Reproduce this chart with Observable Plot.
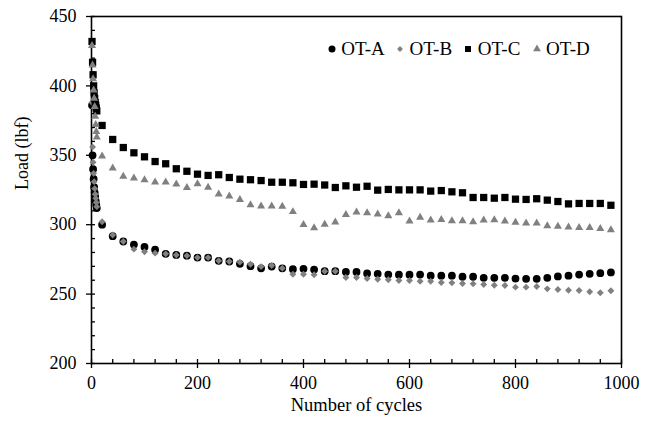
<!DOCTYPE html>
<html>
<head>
<meta charset="utf-8">
<script src="https://cdn.jsdelivr.net/npm/d3@7"></script>
<script src="https://cdn.jsdelivr.net/npm/@observablehq/plot@0.6"></script>
<style>
  body { margin: 0; background: #fff; }
  #wrap { position: relative; width: 650px; height: 423px; font-family: "Liberation Serif", "Times New Roman", serif; color: #000; }
  #legend { position: absolute; left: 326.7px; top: 38px; display: flex; align-items: center; font-size: 19px; line-height: 22px; }
  #legend .item { display: flex; align-items: center; width: 68.3px; flex: none; }
  #legend .item span { margin-left: 4.5px; white-space: nowrap; }
  #legend svg { display: block; }
</style>
</head>
<body>
<div id="wrap"><div id="legend"></div></div>
<script>
// ---- data ----
const cycles = [1,2,3,4,5,6,7,8,9,10,
  20,40,60,80,100,120,140,160,180,200,220,240,260,280,300,320,340,360,380,400,
  420,440,460,480,500,520,540,560,580,600,620,640,660,680,700,720,740,760,780,800,
  820,840,860,880,900,920,940,960,980];

const otA = [386,350,340,333,327,323,320,317,314,312,
  300,291.7,287.9,285.7,284,282,279,278.2,277.7,276.3,276.3,274,273.5,271.8,270.1,268.6,269.8,268.6,267.9,268.2,
  267.7,266.5,266.5,266,266,264.9,264.6,264.1,264,264,264.1,263.3,263.3,263.3,262.5,262.5,261.7,261.7,261.7,261.2,
  261,261,261.7,262.7,263.3,264.1,264.6,265.1,265.6];

const otB = [388,356,345,337,331,326,322,319,316,313,
  302.1,292.6,287.9,282.4,280.5,279.5,279,278.2,277.7,276.3,276.3,274,273.5,273,271.5,269.8,270.6,268.6,264.3,264.3,
  263.9,266.5,266.5,262,262,261.2,260.7,260.3,259.8,259.8,259.3,259.3,258.4,258.1,257.6,257.4,256.9,256.4,256.2,255,
  255,255.5,253.8,253.3,252.8,252.6,251.7,251,252.4];

const otC = [432,417,408,400,395,391,388,386,384,382,
  371.5,361.4,355.6,351.8,348.9,345.5,343.9,340.3,338.5,336.4,335.5,336,334,332.8,332.4,331.8,330.6,330.6,330.2,329,
  329.2,328.6,326.8,328,327,327.7,324.9,325.4,325.1,325.1,325.1,324.2,324.6,323.7,323,319.6,319.6,319.1,319.6,318.4,
  318.2,318.7,317.7,316.7,315,315.3,315.3,315.3,314];

const otD = [429,415,405,397,391,385,378,372,367,363,
  349.4,340.7,334.7,333.5,332.3,330.6,330.6,329.2,326.6,329.3,326.8,322,320.5,318,314.3,313.3,313.3,313.1,309.3,300.1,
  297.6,300.2,301.8,307.3,309,308.5,307.6,306.4,308.5,302.5,305.2,303.3,303.7,302.8,302.8,302,303.3,303.5,302.5,301.6,
  301.1,301.1,299.1,298.7,298.2,297.9,297.9,297.1,296.3];

const seriesNames = ["OT-A", "OT-B", "OT-C", "OT-D"];
const seriesValues = [otA, otB, otC, otD];
const seriesSymbols = ["circle", "diamond2", "square", "triangle"];
const seriesColors = ["#000000", "#808080", "#000000", "#808080"];
const seriesR = [3.9, 3.1, 4.1, 3.0];

const xMajor = [0, 200, 400, 600, 800, 1000];
const xMinor = [40, 80, 120, 160, 240, 280, 320, 360, 440, 480, 520, 560, 640, 680, 720, 760, 840, 880, 920, 960];
const yMajor = [200, 250, 300, 350, 400, 450];
const yMinor = [210, 220, 230, 240, 260, 270, 280, 290, 310, 320, 330, 340, 360, 370, 380, 390, 410, 420, 430, 440];

const xLabel = "Number of cycles";
const yLabel = "Load (lbf)";

// ---- build table ----
const rows = [];
seriesNames.forEach((name, s) => {
  cycles.forEach((c, i) => rows.push({series: name, cycle: c, load: seriesValues[s][i]}));
});

const dotMarks = seriesNames.map((name, s) =>
  Plot.dot(rows.filter(d => d.series === name), {
    x: "cycle", y: "load",
    symbol: () => seriesSymbols[s],
    fill: seriesColors[s],
    r: seriesR[s]
  })
);

const chart = Plot.plot({
  width: 650,
  height: 423,
  marginLeft: 91,
  marginRight: 29,
  marginTop: 16,
  marginBottom: 60,
  style: {fontFamily: "'Liberation Serif', 'Times New Roman', serif", fontSize: "18px", color: "#000", background: "#fff", overflow: "visible"},
  x: {domain: [0, 1000]},
  y: {domain: [200, 450]},
  symbol: {type: "identity"},
  marks: [
    Plot.axisX({ticks: xMajor, tickSize: 5, tickPadding: 8, tickFormat: d => String(d), label: null, strokeWidth: 1.3}),
    Plot.axisX({ticks: xMajor, tickSize: -4, fill: "none", label: null, strokeWidth: 1.3}),
    Plot.axisX({ticks: xMinor, tickSize: -4, fill: "none", label: null, strokeWidth: 1.3}),
    Plot.axisY({ticks: yMajor, tickSize: 5, tickPadding: 10, tickFormat: d => String(d), label: null, strokeWidth: 1.3}),
    Plot.axisY({ticks: yMajor, tickSize: -4, fill: "none", label: null, strokeWidth: 1.3}),
    Plot.axisY({ticks: yMinor, tickSize: -4, fill: "none", label: null, strokeWidth: 1.3}),
    Plot.frame({stroke: "#000", strokeWidth: 1.6}),
    ...dotMarks,
    Plot.text([xLabel], {text: d => d, frameAnchor: "bottom", dy: 47, fontSize: 18.5}),
    Plot.text([yLabel], {text: d => d, frameAnchor: "left", dx: -69, rotate: -90, fontSize: 18})
  ]
});

const wrap = document.getElementById("wrap");
wrap.insertBefore(chart, wrap.firstChild);

// ---- legend overlay ----
const legend = d3.select("#legend");
const legendR = [3.5, 2.6, 3.4, 2.9];
seriesNames.forEach((name, s) => {
  const item = legend.append("div").attr("class", "item");
  const svg = item.append("svg").attr("width", 10).attr("height", 10);
  const size = Math.PI * legendR[s] * legendR[s];
  const sym = {circle: d3.symbolCircle, diamond2: d3.symbolDiamond2, square: d3.symbolSquare, triangle: d3.symbolTriangle}[seriesSymbols[s]];
  svg.append("path")
    .attr("transform", "translate(5,5)")
    .attr("d", d3.symbol(sym, size)())
    .attr("fill", seriesColors[s]);
  item.append("span").text(name);
});
</script>
</body>
</html>
